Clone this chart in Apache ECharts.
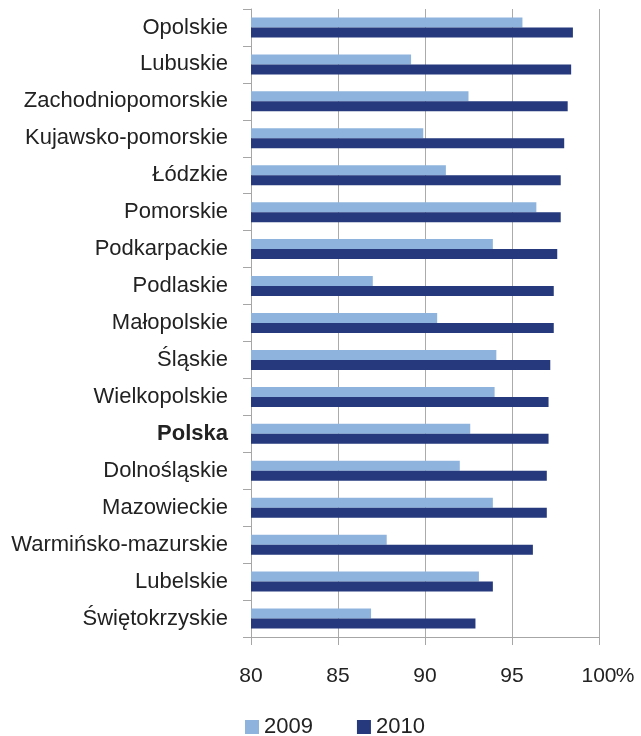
<!DOCTYPE html>
<html>
<head>
<meta charset="utf-8">
<script src="https://cdn.jsdelivr.net/npm/echarts@6/dist/echarts.min.js"></script>
<style>
  html, body { margin: 0; padding: 0; background: #fff; }
  #main { width: 641px; height: 736px; }
</style>
</head>
<body>
<div id="main"></div>
<script>
const regions = ['Opolskie', 'Lubuskie', 'Zachodniopomorskie', 'Kujawsko-pomorskie', 'Łódzkie',
  'Pomorskie', 'Podkarpackie', 'Podlaskie', 'Małopolskie', 'Śląskie', 'Wielkopolskie', 'Polska',
  'Dolnośląskie', 'Mazowieckie', 'Warmińsko-mazurskie', 'Lubelskie', 'Świętokrzyskie']
const values2009 = [95.6, 89.2, 92.5, 89.9, 91.2, 96.4, 93.9, 87.0, 90.7, 94.1, 94.0, 92.6, 92.0, 93.9, 87.8, 93.1, 86.9]
const values2010 = [98.5, 98.4, 98.2, 98.0, 97.8, 97.8, 97.6, 97.4, 97.4, 97.2, 97.1, 97.1, 97.0, 97.0, 96.2, 93.9, 92.9]
const xTicks = [80, 85, 90, 95, 100]

const font = 'Liberation Sans'
const textColor = '#222'
const axisGray = '#a6a6a6'

var myChart = echarts.init(document.getElementById('main'))
let option = {
  animation: false,
  textStyle: { fontFamily: font },
  grid: { left: 251, right: 42, top: 9, bottom: 99 },
  legend: {
    left: 240,
    top: 711,
    itemWidth: 14,
    itemHeight: 14,
    itemGap: 44,
    icon: 'rect',
    textStyle: { fontFamily: font, fontSize: 22, color: textColor },
    data: ['2009', '2010'],
  },
  xAxis: {
    type: 'value',
    min: xTicks[0],
    max: xTicks[xTicks.length - 1],
    interval: 5,
    axisLine: { show: true, lineStyle: { color: axisGray } },
    axisTick: { show: true, length: 8, lineStyle: { color: axisGray } },
    splitLine: { show: true, lineStyle: { color: '#ababab', width: 1 } },
    axisLabel: {
      margin: 29,
      fontSize: 21,
      color: textColor,
      fontFamily: font,
      formatter: function (v) {
        return v === 100 ? '{s|}{n|100}{p|%}' : String(v)
      },
      rich: {
        s: { width: 18 },
        n: { fontSize: 21, color: textColor, fontFamily: font },
        p: { fontSize: 21, color: textColor, fontFamily: font, width: 18, align: 'right' },
      },
    },
  },
  yAxis: {
    type: 'category',
    data: regions,
    inverse: true,
    axisLine: { show: true, lineStyle: { color: axisGray } },
    axisTick: { show: true, length: 8, lineStyle: { color: axisGray } },
    axisLabel: {
      margin: 23,
      fontSize: 22,
      color: textColor,
      fontFamily: font,
      formatter: function (v) {
        return v === 'Polska' ? '{b|' + v + '}' : v
      },
      rich: {
        b: { fontWeight: 'bold', fontSize: 22, color: textColor, fontFamily: font },
      },
    },
  },
  series: [
    {
      name: '2009',
      type: 'bar',
      data: values2009,
      barWidth: 10,
      barGap: '0%',
      itemStyle: { color: '#8eb4de' },
    },
    {
      name: '2010',
      type: 'bar',
      data: values2010,
      barWidth: 10,
      barGap: '0%',
      itemStyle: { color: '#25397c' },
    },
  ],
}
myChart.setOption(option)
</script>
</body>
</html>
